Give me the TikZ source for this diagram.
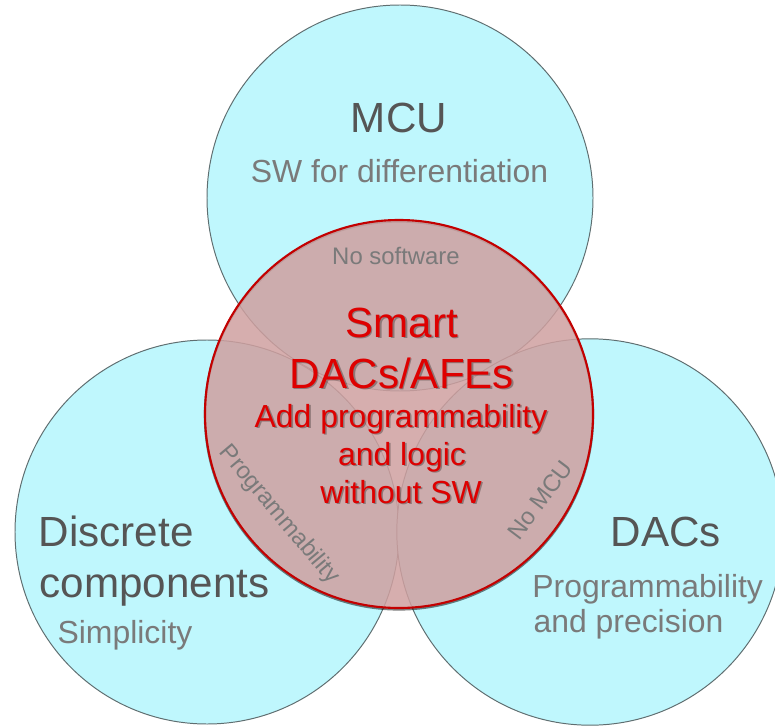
\documentclass[tikz,border=0pt]{standalone}
\usepackage{fontspec}
\setmainfont{Liberation Sans}

\definecolor{setfill}{RGB}{191,247,253}
\definecolor{setline}{RGB}{95,110,112}
\definecolor{corefill}{RGB}{207,160,160}
\definecolor{coreline}{RGB}{195,0,0}
\definecolor{hotred}{RGB}{222,0,0}
\definecolor{titlegray}{RGB}{85,85,85}
\definecolor{subgray}{RGB}{122,122,122}

\begin{document}
\begin{tikzpicture}
\tikzstyle{every node}=[inner sep=0pt, outer sep=0pt]
\tikzstyle{set}=[draw=setline, line width=0.7pt, fill=setfill]
\tikzstyle{core}=[draw=coreline, line width=1.5pt, fill=corefill, fill opacity=0.85]
\tikzstyle{title}=[font=\fontsize{30pt}{35pt}\selectfont, text=titlegray]
\tikzstyle{sub}=[font=\fontsize{22.7pt}{27pt}\selectfont, text=subgray]
\tikzstyle{note}=[font=\fontsize{17pt}{20pt}\selectfont, text=subgray]
\tikzstyle{hot}=[text=hotred]
\tikzstyle{hotshadow}=[text=black, text opacity=0.3]

\useasboundingbox (0,0) rectangle (19.375,18.175);
\clip (0,0) rectangle (19.375,18.175);

% three outer sets
\draw [set] (10,13.225) circle (4.825);
\draw [set] (5.175,4.875) circle (4.8);
\draw [set] (14.75,4.875) circle (4.83);

% smart core on top, with a dark rim under it
\draw [black, opacity=0.5, line width=1.7pt] (9.975,7.79) circle (4.85);
\draw [core] (9.975,7.825) circle (4.85);

% outer set labels
\node [title, anchor=base] (mcu) at (9.975,14.85) {MCU};
\node [sub, anchor=base] (mcusub) at (9.9875,13.6) {SW for differentiation};
\node [title, anchor=base west] (discrete) at (0.97,4.525) {Discrete};
\node [title, anchor=base west] (components) at (0.99,3.25) {components};
\node [sub, anchor=base west] (simplicity) at (1.44,2.1) {Simplicity};
\node [title, anchor=base] (dacs) at (16.65,4.525) {DACs};
\node [sub, anchor=base west] (prog) at (13.31,3.25) {Programmability};
\node [sub, anchor=base west] (precision) at (13.34,2.375) {and precision};

% overlap notes
\node [note, anchor=base] (nosw) at (9.9,11.55) {No software};
\node [note, rotate=-50] (noprog) at (6.975,5.3) {Programmability};
\node [note, rotate=53] (nomcu) at (13.5,5.675) {No MCU};

% core label, shadow first
\node [title, hotshadow, anchor=base] (smart-s) at (10.08,9.71) {Smart};
\node [title, hotshadow, anchor=base] (afe-s) at (10.08,8.435) {DACs/AFEs};
\node [sub, hotshadow, anchor=base] (add-s) at (10.065,7.46) {Add programmability};
\node [sub, hotshadow, anchor=base] (logic-s) at (10.09,6.51) {and logic};
\node [sub, hotshadow, anchor=base] (nosoft-s) at (10.065,5.56) {without SW};
\node [title, hot, anchor=base] (smart) at (10.04,9.75) {Smart};
\node [title, hot, anchor=base] (afe) at (10.04,8.475) {DACs/AFEs};
\node [sub, hot, anchor=base] (add) at (10.025,7.5) {Add programmability};
\node [sub, hot, anchor=base] (logic) at (10.05,6.55) {and logic};
\node [sub, hot, anchor=base] (nosoft) at (10.025,5.6) {without SW};
\end{tikzpicture}
\end{document}
